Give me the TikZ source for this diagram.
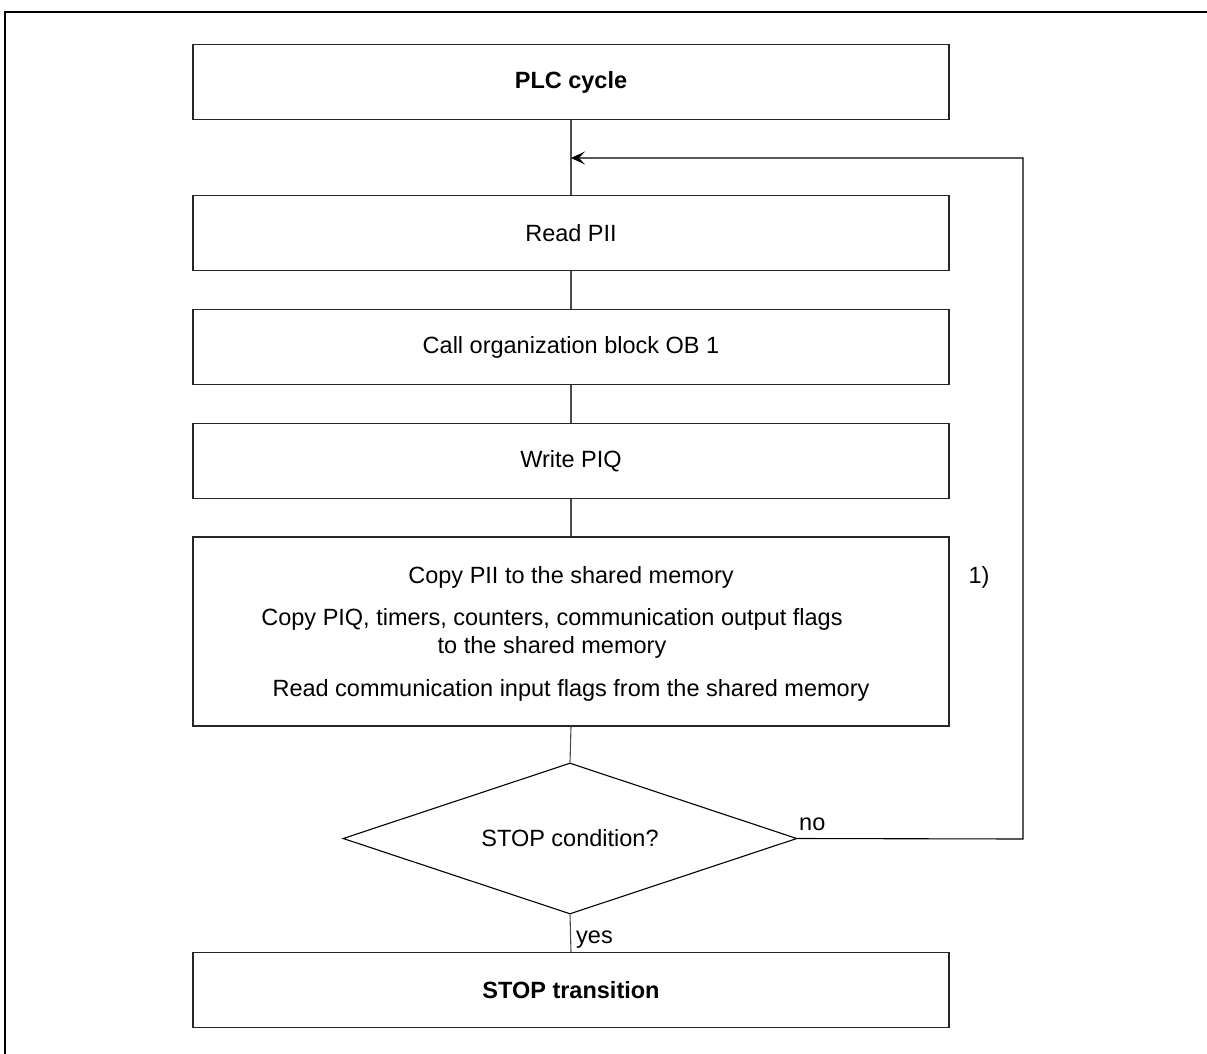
\documentclass[tikz,border=0pt]{standalone}
\usepackage{fontspec}
\setmainfont{Liberation Sans}
\usetikzlibrary{arrows.meta,shapes.geometric}
\begin{document}
\begin{tikzpicture}[x=1pt,y=-1pt,
  box/.style={draw=black!85,line width=1.2pt,minimum width=756pt,minimum height=75pt,inner sep=0pt,font=\fontsize{23.5}{28}\selectfont,align=center},
  conn/.style={draw=black!70,line width=1.1pt},
  lbl/.style={font=\fontsize{23.5}{28}\selectfont,inner sep=0pt}]
\useasboundingbox (0,0) rectangle (1207,1054);
\draw[line width=2.6pt] (5,1054) -- (5,12) -- (1207,12);
\node[box] (plc) at (571,82) {\textbf{PLC cycle}};
\node[box] (rpii) at (571,233) {Read PII};
\node[box] (ob1) at (571,347) {Call organization block OB 1};
\node[box] (wpiq) at (571,461) {Write PIQ};
\node[box,minimum height=189pt] (copy) at (571,631.5) {};
\node[lbl] (t1) at (571,577) {Copy PII to the shared memory};
\node[lbl,align=center] (t2) at (552,633) {Copy PIQ, timers, counters, communication output flags\\to the shared memory};
\node[lbl] (t3) at (571,690) {Read communication input flags from the shared memory};
\node[draw=black,line width=1.1pt,diamond,aspect=3,minimum width=454pt,minimum height=151pt,inner sep=0pt,font=\fontsize{23.5}{28}\selectfont] (stop) at (570,838.5) {STOP condition?};
\node[lbl] (n1) at (979,577) {1)};
\node[lbl,anchor=base west] (no) at (799,830) {no};
\node[lbl,anchor=base west] (yes) at (576,943) {yes};
\node[box] (strans) at (571,990) {\textbf{STOP transition}};
\coordinate (c1) at (1023,839);
\coordinate (c2) at (1023,158);
\coordinate (c3) at (571,158);
\draw[conn] (plc.south) -- (rpii.north);
\draw[conn] (rpii.south) -- (ob1.north);
\draw[conn] (ob1.south) -- (wpiq.north);
\draw[conn] (wpiq.south) -- (copy.north);
\draw[conn] (copy.south) -- (stop.north);
\draw[conn] (stop.south) -- (strans.north);
\draw[line width=1.1pt,-{Stealth[length=14pt,width=13pt,inset=6pt]}] (stop.east) -- (c1) -- (c2) -- (c3);
\end{tikzpicture}
\end{document}
